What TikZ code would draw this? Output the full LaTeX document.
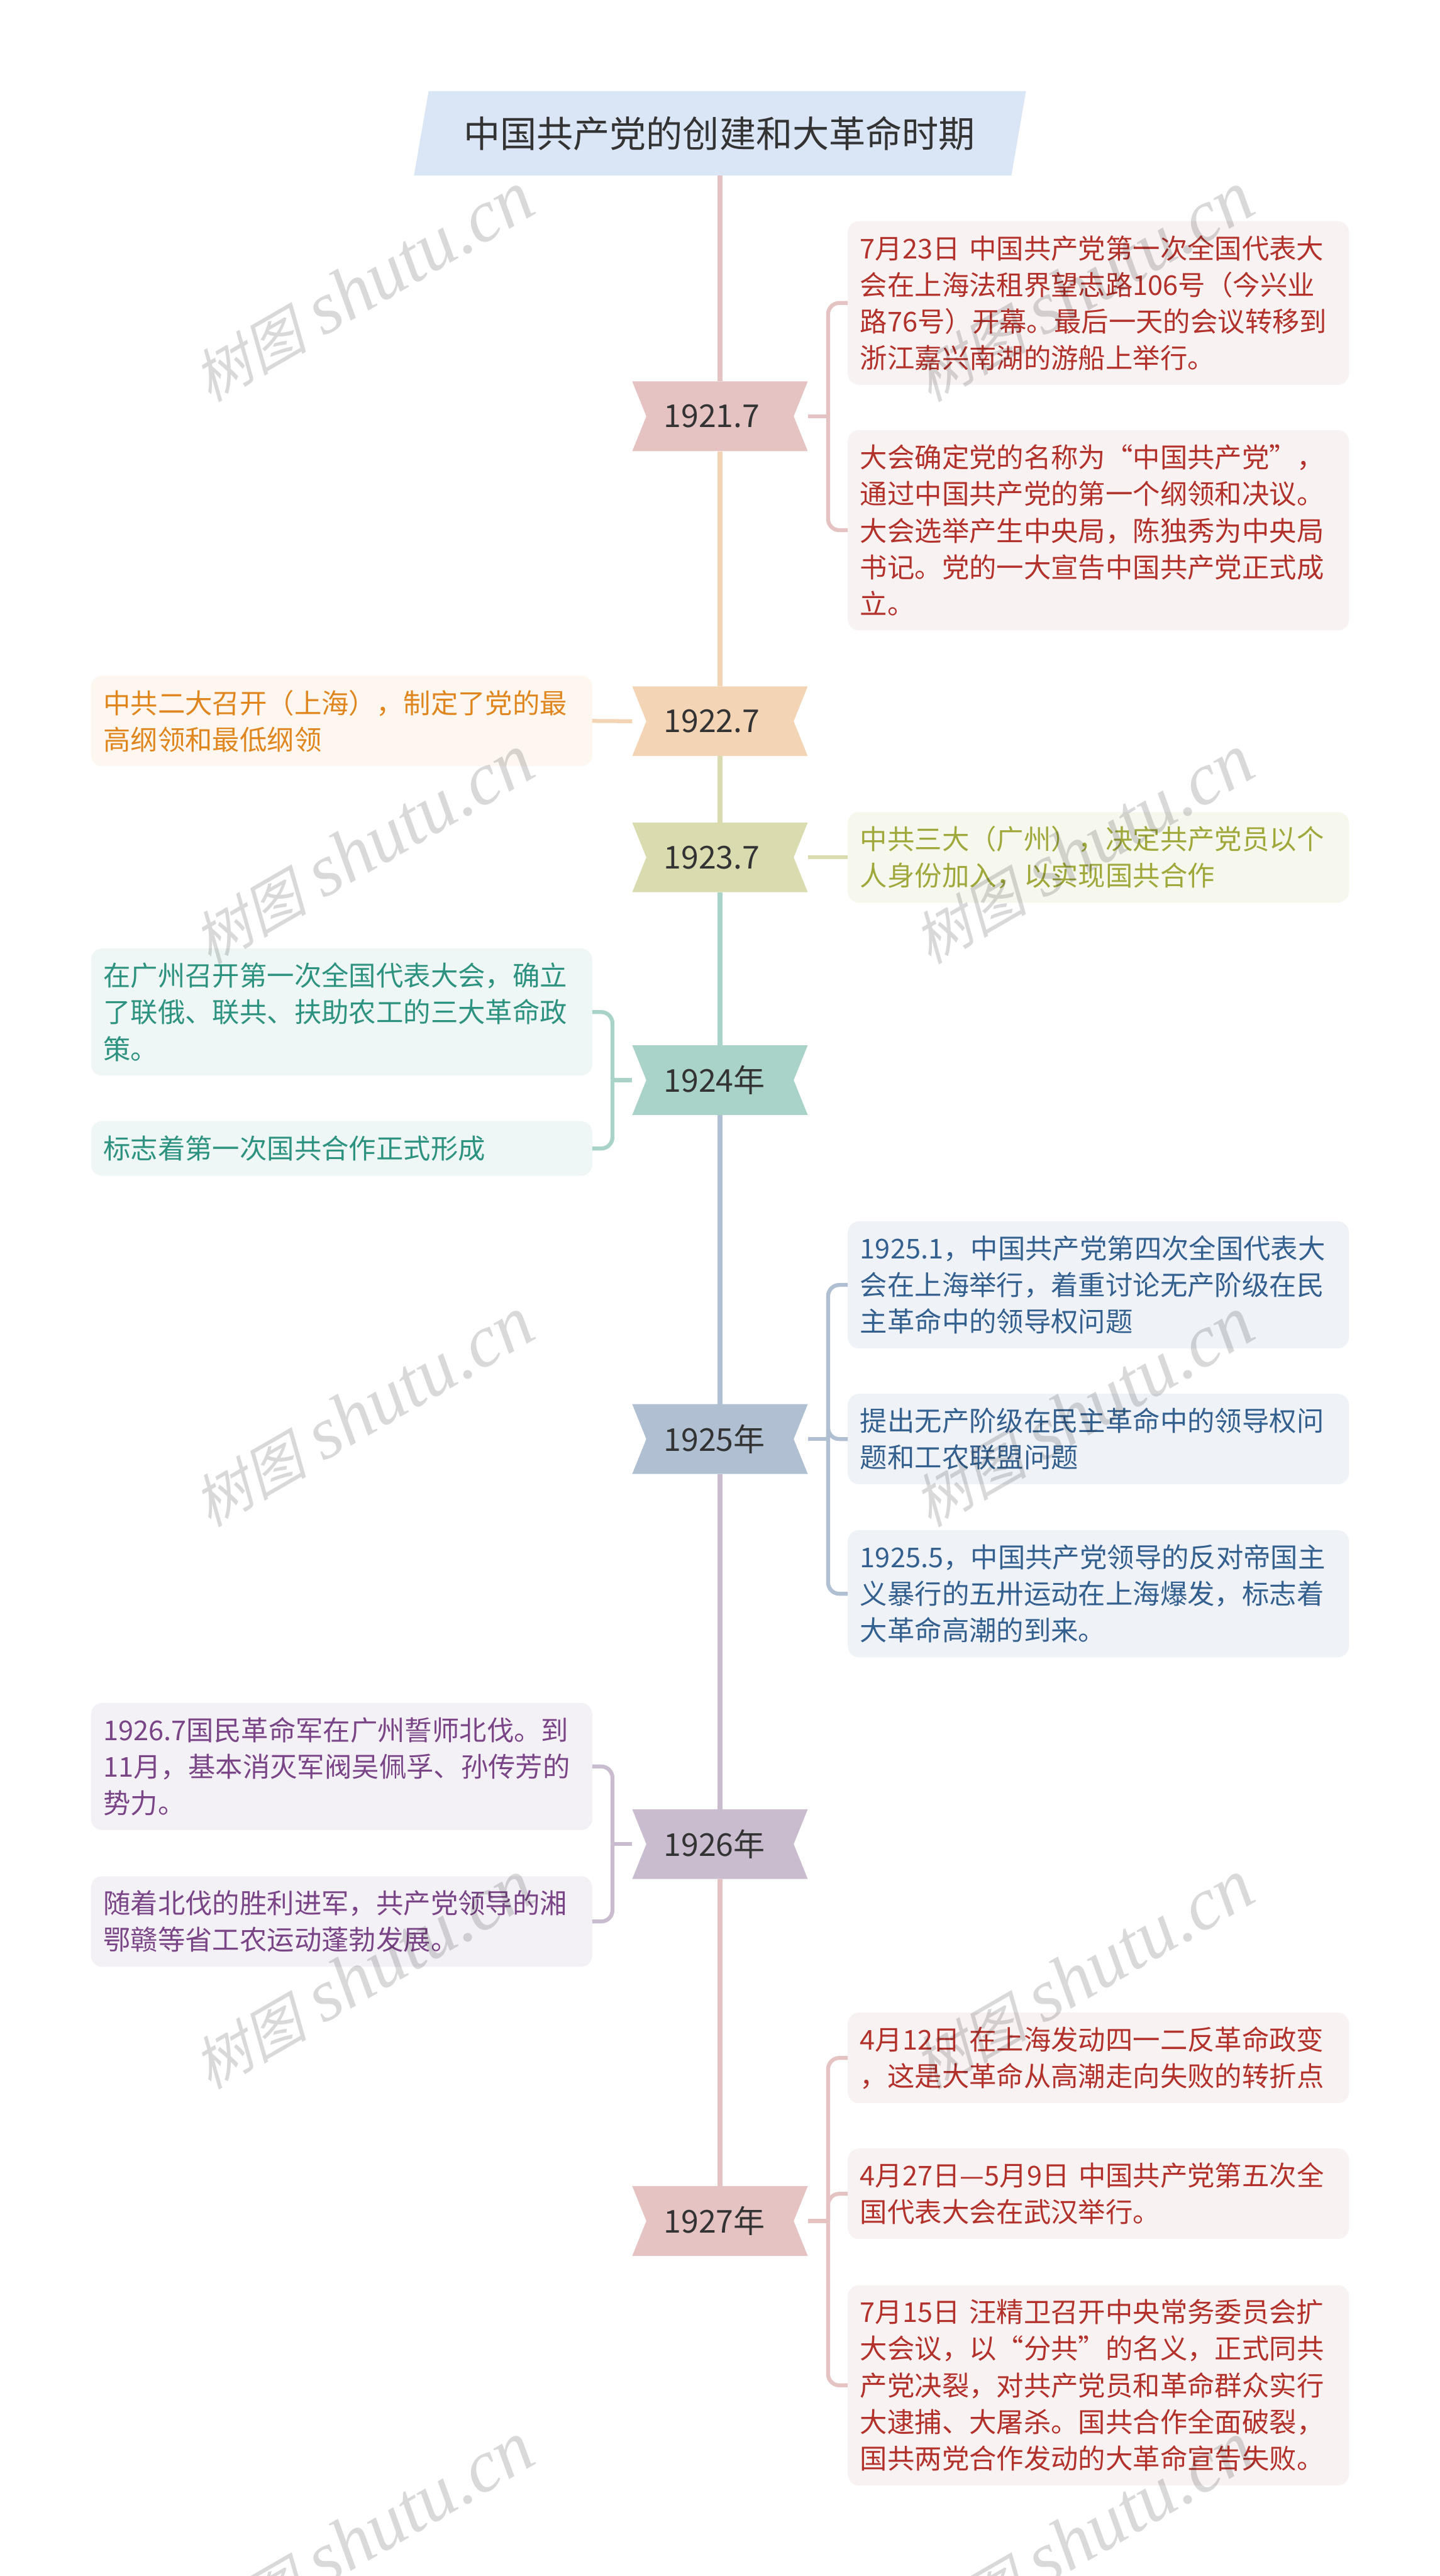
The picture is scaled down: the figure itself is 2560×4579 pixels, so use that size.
\documentclass[tikz,border=0pt]{standalone}
\usepackage{fontspec}
\setmainfont{Noto Sans CJK SC}
\newfontfamily\markhan[FakeSlant=0.25]{Noto Sans CJK SC}
\newfontfamily\marklatin{Liberation Serif}
\definecolor{titlefill}{HTML}{DAE5F6}
\definecolor{textdark}{HTML}{333333}
\definecolor{redline}{HTML}{E6C3C3}
\definecolor{redbox}{HTML}{F8F2F2}
\definecolor{redtext}{HTML}{B3312B}
\definecolor{orangeline}{HTML}{F3D5B5}
\definecolor{orangebox}{HTML}{FEF7F0}
\definecolor{orangetext}{HTML}{E0861F}
\definecolor{oliveline}{HTML}{DADCB0}
\definecolor{olivebox}{HTML}{F6F8EE}
\definecolor{olivetext}{HTML}{A0A83C}
\definecolor{tealline}{HTML}{A9D3C9}
\definecolor{tealbox}{HTML}{EEF7F5}
\definecolor{tealtext}{HTML}{2E9280}
\definecolor{navyline}{HTML}{B0BFD2}
\definecolor{navybox}{HTML}{EFF3F7}
\definecolor{navytext}{HTML}{34608F}
\definecolor{plumline}{HTML}{C9BCCF}
\definecolor{plumbox}{HTML}{F4F1F6}
\definecolor{plumtext}{HTML}{7A4587}
\tikzset{
    yearbox/.style={minimum width=312pt, minimum height=124pt, inner xsep=56pt, inner ysep=0pt, text width=200pt, align=left, text=textdark, font=\fontsize{56pt}{66pt}\selectfont},
    itembox/.style={rounded corners=20pt, minimum width=891pt, inner xsep=22pt, inner ysep=0pt, text width=847pt, align=left, font=\fontsize{48.5pt}{65pt}\selectfont},
    trunk/.style={line width=8pt},
    branch/.style={line width=7pt},
    elbow/.style={line width=7pt, rounded corners=20pt},
    wmark/.style={rotate=30, text=black, text opacity=0.15, inner sep=0pt}
}
% year ribbon: colour, middle y
\newcommand{\ribbon}[2]{\fill[#1] (1124,#2-62) -- (1436,#2-62) -- (1411,#2) -- (1436,#2+62) -- (1124,#2+62) -- (1149,#2) -- cycle;}
\begin{document}
\begin{tikzpicture}[x=1pt,y=-1pt]
    \useasboundingbox (0,0) rectangle (2560,4579);
    \fill[white] (0,0) rectangle (2560,4579);
    % title
    \fill[titlefill] (762,162) -- (1824,162) -- (1798,312) -- (736,312) -- cycle;
    \node[minimum width=1000pt, minimum height=150pt, inner sep=0pt, text=textdark, font=\fontsize{65pt}{72pt}\selectfont] (title) at (1279,237) {中国共产党的创建和大革命时期};
    % ribbons
    \ribbon{redline}{740}
    \ribbon{orangeline}{1282}
    \ribbon{oliveline}{1524}
    \ribbon{tealline}{1920}
    \ribbon{navyline}{2558}
    \ribbon{plumline}{3278}
    \ribbon{redline}{3948}
    \node[yearbox] (y1921) at (1280,740) {1921.7};
    \node[yearbox] (y1922) at (1280,1282) {1922.7};
    \node[yearbox] (y1923) at (1280,1524) {1923.7};
    \node[yearbox] (y1924) at (1280,1920) {1924年};
    \node[yearbox] (y1925) at (1280,2558) {1925年};
    \node[yearbox] (y1926) at (1280,3278) {1926年};
    \node[yearbox] (y1927) at (1280,3948) {1927年};
    % trunk
    \draw[trunk, redline] (y1921 |- title.south) -- (y1921);
    \draw[trunk, orangeline] (y1921) -- (y1922);
    \draw[trunk, oliveline] (y1922) -- (y1923);
    \draw[trunk, tealline] (y1923) -- (y1924);
    \draw[trunk, navyline] (y1924) -- (y1925);
    \draw[trunk, plumline] (y1925) -- (y1926);
    \draw[trunk, redline] (y1926) -- (y1927);
    % item boxes
    \node[itembox, fill=redbox, text=redtext, minimum height=291pt, anchor=west] (a1921) at (1507,538.5) {7月23日 中国共产党第一次全国代表大\\会在上海法租界望志路106号（今兴业\\路76号）开幕。最后一天的会议转移到\\浙江嘉兴南湖的游船上举行。};
    \node[itembox, fill=redbox, text=redtext, minimum height=356pt, anchor=west] (b1921) at (1507,942.5) {大会确定党的名称为“中国共产党”，\\通过中国共产党的第一个纲领和决议。\\大会选举产生中央局，陈独秀为中央局\\书记。党的一大宣告中国共产党正式成\\立。};
    \node[itembox, fill=orangebox, text=orangetext, minimum height=161pt, anchor=east] (a1922) at (1053,1281.5) {中共二大召开（上海），制定了党的最\\高纲领和最低纲领};
    \node[itembox, fill=olivebox, text=olivetext, minimum height=161pt, anchor=west] (a1923) at (1507,1524) {中共三大（广州），决定共产党员以个\\人身份加入，以实现国共合作};
    \node[itembox, fill=tealbox, text=tealtext, minimum height=226pt, anchor=east] (a1924) at (1053,1799) {在广州召开第一次全国代表大会，确立\\了联俄、联共、扶助农工的三大革命政\\策。};
    \node[itembox, fill=tealbox, text=tealtext, minimum height=97pt, anchor=east] (b1924) at (1053,2041.5) {标志着第一次国共合作正式形成};
    \node[itembox, fill=navybox, text=navytext, minimum height=226pt, anchor=west] (a1925) at (1507,2284) {1925.1，中国共产党第四次全国代表大\\会在上海举行，着重讨论无产阶级在民\\主革命中的领导权问题};
    \node[itembox, fill=navybox, text=navytext, minimum height=161pt, anchor=west] (b1925) at (1507,2558) {提出无产阶级在民主革命中的领导权问\\题和工农联盟问题};
    \node[itembox, fill=navybox, text=navytext, minimum height=226pt, anchor=west] (c1925) at (1507,2833) {1925.5，中国共产党领导的反对帝国主\\义暴行的五卅运动在上海爆发，标志着\\大革命高潮的到来。};
    \node[itembox, fill=plumbox, text=plumtext, minimum height=226pt, anchor=east] (a1926) at (1053,3140) {1926.7国民革命军在广州誓师北伐。到\\11月，基本消灭军阀吴佩孚、孙传芳的\\势力。};
    \node[itembox, fill=plumbox, text=plumtext, minimum height=161pt, anchor=east] (b1926) at (1053,3415.5) {随着北伐的胜利进军，共产党领导的湘\\鄂赣等省工农运动蓬勃发展。};
    \node[itembox, fill=redbox, text=redtext, minimum height=161pt, anchor=west] (a1927) at (1507,3658) {4月12日 在上海发动四一二反革命政变\\，这是大革命从高潮走向失败的转折点};
    \node[itembox, fill=redbox, text=redtext, minimum height=161pt, anchor=west] (b1927) at (1507,3899.5) {4月27日—5月9日 中国共产党第五次全\\国代表大会在武汉举行。};
    \node[itembox, fill=redbox, text=redtext, minimum height=356pt, anchor=west] (c1927) at (1507,4240) {7月15日 汪精卫召开中央常务委员会扩\\大会议，以“分共”的名义，正式同共\\产党决裂，对共产党员和革命群众实行\\大逮捕、大屠杀。国共合作全面破裂，\\国共两党合作发动的大革命宣告失败。};
    % joints
    \coordinate[xshift=36pt] (j1921) at (y1921.east);
    \coordinate[xshift=-35pt] (j1924) at (y1924.west);
    \coordinate[xshift=36pt] (j1925) at (y1925.east);
    \coordinate[xshift=-35pt] (j1926) at (y1926.west);
    \coordinate[xshift=36pt] (j1927) at (y1927.east);
    % connectors
    \draw[branch, redline] (y1921.east) -- (j1921);
    \draw[elbow, redline] (j1921) |- (a1921.west);
    \draw[elbow, redline] (j1921) |- (b1921.west);
    \draw[branch, orangeline] (y1922.west) -- (a1922.east);
    \draw[branch, oliveline] (y1923.east) -- (a1923.west);
    \draw[branch, tealline] (y1924.west) -- (j1924);
    \draw[elbow, tealline] (j1924) |- (a1924.east);
    \draw[elbow, tealline] (j1924) |- (b1924.east);
    \draw[branch, navyline] (y1925.east) -- (j1925);
    \draw[elbow, navyline] (j1925) |- (a1925.west);
    \draw[elbow, navyline] (j1925) |- (b1925.west);
    \draw[elbow, navyline] (j1925) |- (c1925.west);
    \draw[branch, plumline] (y1926.west) -- (j1926);
    \draw[elbow, plumline] (j1926) |- (a1926.east);
    \draw[elbow, plumline] (j1926) |- (b1926.east);
    \draw[branch, redline] (y1927.east) -- (j1927);
    \draw[elbow, redline] (j1927) |- (a1927.west);
    \draw[elbow, redline] (j1927) |- (b1927.west);
    \draw[elbow, redline] (j1927) |- (c1927.west);
    % watermark
    \foreach \wx in {645,1925} {
        \foreach \wy in {510,1510,2510,3510,4510} {
            \node[wmark, name=w\wx-\wy] at (\wx,\wy) {{\fontsize{102pt}{110pt}\selectfont\markhan 树图}\hspace{30pt}{\fontsize{132pt}{140pt}\selectfont\marklatin\itshape shutu.cn}};
        }
    }
\end{tikzpicture}
\end{document}
